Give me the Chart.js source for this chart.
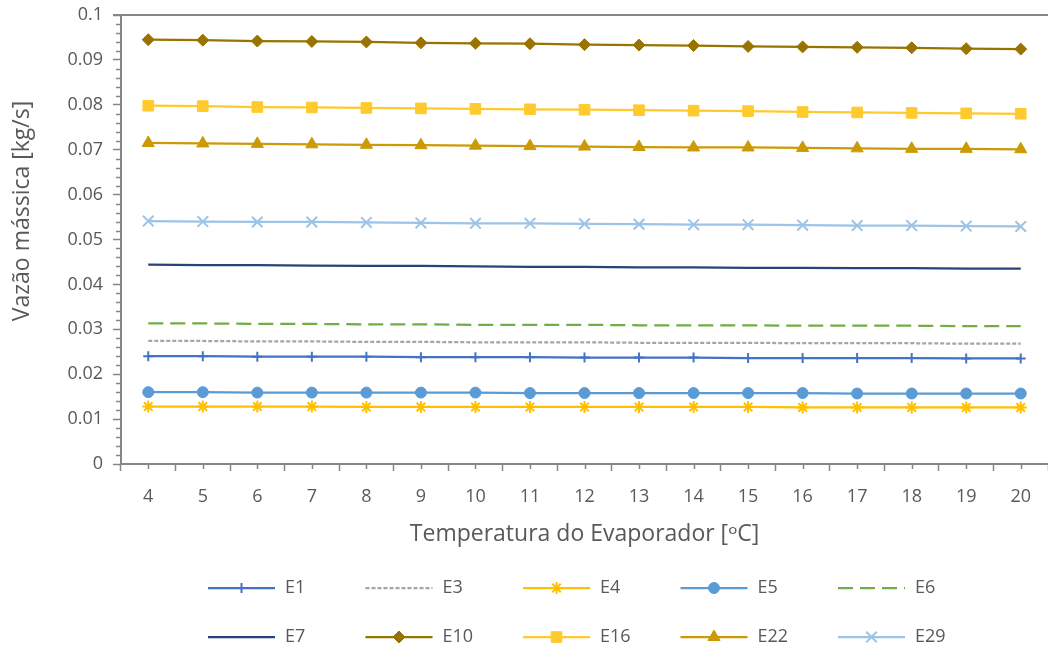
<!DOCTYPE html>
<html>
<head>
<meta charset="utf-8">
<script src="https://cdn.jsdelivr.net/npm/chart.js@4.4.1/dist/chart.umd.min.js"></script>
<style>
  html, body { margin: 0; padding: 0; background: #ffffff; }
  canvas { display: block; }
</style>
</head>
<body>
<canvas id="grafico" width="1048" height="652"></canvas>
<script>
// Evaporator temperature (°C) on the category axis
const temperaturas = ['4', '5', '6', '7', '8', '9', '10', '11', '12', '13', '14', '15', '16', '17', '18', '19', '20'];

// Y axis tick values and their labels
const yTickValues = [0, 0.01, 0.02, 0.03, 0.04, 0.05, 0.06, 0.07, 0.08, 0.09, 0.1];
const yTickLabels = ['0', '0.01', '0.02', '0.03', '0.04', '0.05', '0.06', '0.07', '0.08', '0.09', '0.1'];

// Series names in legend order
const seriesNames = ['E1', 'E3', 'E4', 'E5', 'E6', 'E7', 'E10', 'E16', 'E22', 'E29'];

// Mass flow [kg/s] per refrigerant, one value per temperature
const e1  = [0.0240, 0.0240, 0.0239, 0.0239, 0.0239, 0.0238, 0.0238, 0.0238, 0.0237, 0.0237, 0.0237, 0.0236, 0.0236, 0.0236, 0.0236, 0.0235, 0.0235];
const e3  = [0.0274, 0.0274, 0.0273, 0.0273, 0.0272, 0.0272, 0.0271, 0.0271, 0.0271, 0.0270, 0.0270, 0.0270, 0.0269, 0.0269, 0.0269, 0.0268, 0.0268];
const e4  = [0.0128, 0.0128, 0.0128, 0.0128, 0.0127, 0.0127, 0.0127, 0.0127, 0.0127, 0.0127, 0.0127, 0.0127, 0.0126, 0.0126, 0.0126, 0.0126, 0.0126];
const e5  = [0.0160, 0.0160, 0.0159, 0.0159, 0.0159, 0.0159, 0.0159, 0.0158, 0.0158, 0.0158, 0.0158, 0.0158, 0.0158, 0.0157, 0.0157, 0.0157, 0.0157];
const e6  = [0.0313, 0.0313, 0.0312, 0.0312, 0.0311, 0.0311, 0.0310, 0.0310, 0.0310, 0.0309, 0.0309, 0.0309, 0.0308, 0.0308, 0.0308, 0.0307, 0.0307];
const e7  = [0.0444, 0.0443, 0.0443, 0.0442, 0.0441, 0.0441, 0.0440, 0.0439, 0.0439, 0.0438, 0.0438, 0.0437, 0.0437, 0.0436, 0.0436, 0.0435, 0.0435];
const e10 = [0.0945, 0.0944, 0.0942, 0.0941, 0.0940, 0.0938, 0.0937, 0.0936, 0.0934, 0.0933, 0.0932, 0.0930, 0.0929, 0.0928, 0.0927, 0.0925, 0.0924];
const e16 = [0.0798, 0.0797, 0.0795, 0.0794, 0.0793, 0.0792, 0.0791, 0.0790, 0.0789, 0.0788, 0.0787, 0.0786, 0.0784, 0.0783, 0.0782, 0.0781, 0.0780];
const e22 = [0.0715, 0.0714, 0.0713, 0.0712, 0.0711, 0.0710, 0.0709, 0.0708, 0.0707, 0.0706, 0.0705, 0.0705, 0.0704, 0.0703, 0.0702, 0.0702, 0.0701];
const e29 = [0.0541, 0.0540, 0.0539, 0.0539, 0.0538, 0.0537, 0.0536, 0.0536, 0.0535, 0.0534, 0.0533, 0.0533, 0.0532, 0.0531, 0.0531, 0.0530, 0.0529];

const seriesValues = [e1, e3, e4, e5, e6, e7, e10, e16, e22, e29];

// Visual style of each series (colour, dash, marker)
const seriesStyles = [
  { color: '#4472C4', dash: [],      marker: 'cross',    radius: 5,   markerWidth: 2 },
  { color: '#A5A5A5', dash: [4, 2],  marker: false,      radius: 0,   markerWidth: 0 },
  { color: '#FFC000', dash: [],      marker: 'star',     radius: 6,   markerWidth: 2 },
  { color: '#5B9BD5', dash: [],      marker: 'circle',   radius: 5.5, markerWidth: 1 },
  { color: '#70AD47', dash: [15, 7], marker: false,      radius: 0,   markerWidth: 0 },
  { color: '#264478', dash: [],      marker: false,      radius: 0,   markerWidth: 0 },
  { color: '#997300', dash: [],      marker: 'rectRot',  radius: 6,   markerWidth: 1 },
  { color: '#FFCA2E', dash: [],      marker: 'rect',     radius: 7.5, markerWidth: 1 },
  { color: '#CC9A06', dash: [],      marker: 'triangle', radius: 7,   markerWidth: 1 },
  { color: '#9DC3E6', dash: [],      marker: 'crossRot', radius: 7.5, markerWidth: 2 }
];

const AXIS_GREY = '#868686';
const TEXT_GREY = '#595959';
const FONT = '"Open Sans", "Noto Sans", sans-serif';

const datasets = seriesNames.map((name, i) => {
  const s = seriesStyles[i];
  return {
    label: name,
    data: seriesValues[i],
    borderColor: s.color,
    backgroundColor: s.color,
    borderWidth: 2.25,
    borderDash: s.dash,
    pointStyle: s.marker,
    pointRadius: s.radius,
    pointHoverRadius: s.radius,
    pointBorderWidth: s.markerWidth,
    pointBackgroundColor: s.color,
    pointBorderColor: s.color,
    tension: 0,
    fill: false
  };
});

// Minor tick marks on both axes plus the top frame line
const axisDecor = {
  id: 'axisDecor',
  afterDraw(chart) {
    const ctx = chart.ctx;
    const area = chart.chartArea;
    const ys = chart.scales.y;
    const xs = chart.scales.x;
    ctx.save();
    ctx.strokeStyle = AXIS_GREY;
    ctx.lineWidth = 1.5;
    // y minor ticks every 0.002
    for (let j = 1; j < 50; j++) {
      if (j % 5 === 0) continue;
      const py = Math.round(ys.getPixelForValue(j * 0.002)) + 0.5;
      ctx.beginPath();
      ctx.moveTo(area.left - 5, py);
      ctx.lineTo(area.left, py);
      ctx.stroke();
    }
    // x minor ticks at each category
    for (let i = 0; i < temperaturas.length; i++) {
      const px = Math.round(xs.getPixelForValue(i)) + 0.5;
      ctx.beginPath();
      ctx.moveTo(px, area.bottom);
      ctx.lineTo(px, area.bottom + 5);
      ctx.stroke();
    }
    // top frame line
    ctx.lineWidth = 2;
    ctx.beginPath();
    ctx.moveTo(area.left - 8, area.top);
    ctx.lineTo(area.right, area.top);
    ctx.stroke();
    ctx.restore();
  }
};

// Vertical axis title
const yTitle = {
  id: 'yTitle',
  afterDraw(chart) {
    const ctx = chart.ctx;
    ctx.save();
    ctx.translate(22, chart.chartArea.top + 196);
    ctx.rotate(-Math.PI / 2);
    ctx.fillStyle = TEXT_GREY;
    ctx.font = '23px ' + FONT;
    ctx.textAlign = 'center';
    ctx.textBaseline = 'middle';
    ctx.fillText('Vazão mássica [kg/s]', 0, 0);
    ctx.restore();
  }
};

// Two-row legend with line samples and markers
const gridLegend = {
  id: 'gridLegend',
  afterDraw(chart) {
    const ctx = chart.ctx;
    const cols = 5;
    const startX = 208, colW = 157.5, rowY = [588, 637], sampleW = 67;
    chart.data.datasets.forEach((ds, i) => {
      const x0 = startX + (i % cols) * colW;
      const y = rowY[Math.floor(i / cols)];
      ctx.save();
      ctx.strokeStyle = ds.borderColor;
      ctx.lineWidth = ds.borderWidth;
      ctx.setLineDash(ds.borderDash || []);
      ctx.beginPath();
      ctx.moveTo(x0, y);
      ctx.lineTo(x0 + sampleW, y);
      ctx.stroke();
      ctx.setLineDash([]);
      if (ds.pointStyle && ds.pointRadius > 0) {
        ctx.fillStyle = ds.pointBackgroundColor;
        ctx.strokeStyle = ds.pointBorderColor;
        ctx.lineWidth = ds.pointBorderWidth;
        Chart.helpers.drawPoint(ctx, {
          pointStyle: ds.pointStyle,
          radius: ds.pointRadius,
          borderWidth: ds.pointBorderWidth,
          rotation: 0
        }, x0 + sampleW / 2, y);
      }
      ctx.fillStyle = TEXT_GREY;
      ctx.font = '18px ' + FONT;
      ctx.textAlign = 'left';
      ctx.textBaseline = 'middle';
      ctx.fillText(ds.label, x0 + sampleW + 10, y);
      ctx.restore();
    });
  }
};

new Chart(document.getElementById('grafico'), {
  type: 'line',
  data: { labels: temperaturas, datasets: datasets },
  options: {
    responsive: false,
    animation: false,
    devicePixelRatio: 1,
    layout: { autoPadding: false, padding: { top: 15, right: 0, bottom: 100, left: 0 } },
    plugins: {
      legend: { display: false },
      tooltip: { enabled: false }
    },
    scales: {
      x: {
        offset: true,
        afterFit(scale) {
          scale.height = 88;
          scale.paddingLeft = 0;
          scale.paddingRight = 0;
        },
        grid: {
          offset: true,
          drawOnChartArea: false,
          drawTicks: true,
          tickLength: 7,
          color: AXIS_GREY,
          tickWidth: 1.5
        },
        border: { color: AXIS_GREY, width: 2 },
        ticks: {
          color: TEXT_GREY,
          font: { family: FONT, size: 18 },
          padding: 15,
          maxRotation: 0,
          autoSkip: false
        },
        title: {
          display: true,
          text: 'Temperatura do Evaporador [ᵒC]',
          color: TEXT_GREY,
          font: { family: FONT, size: 23 },
          padding: { top: 0, bottom: 4 }
        }
      },
      y: {
        min: 0,
        max: 0.1,
        afterFit(scale) {
          scale.width = 121;
          scale.paddingTop = 0;
          scale.paddingBottom = 0;
        },
        afterBuildTicks(scale) { scale.ticks = yTickValues.map(v => ({ value: v })); },
        grid: {
          drawOnChartArea: false,
          drawTicks: true,
          tickLength: 8,
          color: AXIS_GREY,
          tickWidth: 1.5
        },
        border: { color: AXIS_GREY, width: 2 },
        ticks: {
          color: TEXT_GREY,
          font: { family: FONT, size: 18 },
          padding: 10,
          callback: (value, index) => yTickLabels[index]
        }
      }
    }
  },
  plugins: [axisDecor, yTitle, gridLegend]
});
</script>
</body>
</html>
